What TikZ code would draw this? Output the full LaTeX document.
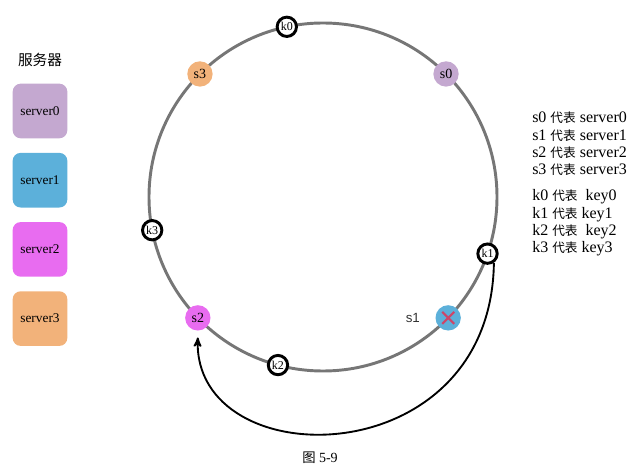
\documentclass[tikz,border=0pt]{standalone}
\usepackage{fontspec}
\setmainfont{Liberation Serif}
\newfontfamily\cjk{Noto Sans CJK SC}
\newfontfamily\labelsans{Liberation Sans}
\usepackage{tikz}
\usetikzlibrary{arrows}
\usetikzlibrary{positioning}

\definecolor{srvzero}{RGB}{196,168,208}
\definecolor{srvone}{RGB}{92,176,218}
\definecolor{srvtwo}{RGB}{232,108,240}
\definecolor{srvthree}{RGB}{242,178,122}
\definecolor{ringgray}{RGB}{118,118,118}
\definecolor{crossred}{RGB}{205,70,105}
\newcommand{\daibiao}{{\cjk\fontsize{9.5}{9.5}\selectfont 代表}}

\begin{document}
\begin{tikzpicture}[x=0.75pt,y=0.75pt,>=stealth',
 srvbox/.style={rectangle,rounded corners=6pt,minimum size=41pt,inner sep=0pt,font=\fontsize{10}{10}\selectfont},
 snode/.style={circle,minimum size=19pt,inner sep=0pt,font=\fontsize{10.5}{10.5}\selectfont},
 knode/.style={circle,draw=black,line width=2.2pt,fill=white,minimum size=14.5pt,inner sep=0pt,font=\fontsize{9}{9}\selectfont}]
 \useasboundingbox (0,0) rectangle (640,472);
 \coordinate (c) at (323,275);
 \draw [ringgray,line width=2.2pt] (c) circle (174);
 \begin{scope}[every node/.style={snode}]
 \node [fill=srvzero] (s0) at ([shift={(45:174)}]c) {s0};
 \node [fill=srvone] (s1) at ([shift={(-44:174)}]c) {};
 \node [fill=srvtwo] (s2) at ([shift={(224:174)}]c) {s2};
 \node [fill=srvthree] (s3) at ([shift={(135:174)}]c) {s3};
 \end{scope}
 \begin{scope}[every node/.style={knode}]
 \node (k0) at ([shift={(102:174)}]c) {k0};
 \node (k1) at ([shift={(-19:174)}]c) {k1};
 \node (k2) at ([shift={(255:174)}]c) {k2};
 \node (k3) at ([shift={(191:174)}]c) {k3};
 \end{scope}
 \node [left=8pt of s1,text=black!80,font=\labelsans\fontsize{10}{10}\selectfont] (s1lab) {s1};
 \draw [crossred,line width=1.6pt] ([shift={(-6,-6)}]s1.center) -- ([shift={(6,6)}]s1.center);
 \draw [crossred,line width=1.6pt] ([shift={(-6,6)}]s1.center) -- ([shift={(6,-6)}]s1.center);
 \draw [->,line width=1.4pt] (k1.-55) .. controls (491,-5) and (193,-5) .. ([yshift=-5pt]s2.south);

 \node [srvbox,fill=srvzero] (srv0) at (40,361) {server0};
 \node [srvbox,fill=srvone,below=10.5pt of srv0] (srv1) {server1};
 \node [srvbox,fill=srvtwo,below=10.5pt of srv1] (srv2) {server2};
 \node [srvbox,fill=srvthree,below=10.5pt of srv2] (srv3) {server3};
 \node [above=9pt of srv0,font=\cjk\fontsize{11}{11}\selectfont] (title) {服务器};

 \node [anchor=west,align=left,inner sep=0pt,font=\fontsize{12}{13}\selectfont] (slist) at (532,328) {s0 \daibiao{} server0\\ s1 \daibiao{} server1\\ s2 \daibiao{} server2\\ s3 \daibiao{} server3};
 \node [below=10pt of slist.south west,anchor=north west,align=left,inner sep=0pt,font=\fontsize{12}{13}\selectfont] (klist) {k0 \daibiao{}\ \ key0\\ k1 \daibiao{} key1\\ k2 \daibiao{}\ \ key2\\ k3 \daibiao{} key3};
 \node [font=\fontsize{10.5}{10.5}\selectfont] (fig) at (320,14) {{\cjk\fontsize{10}{10}\selectfont 图} 5-9};
\end{tikzpicture}
\end{document}
